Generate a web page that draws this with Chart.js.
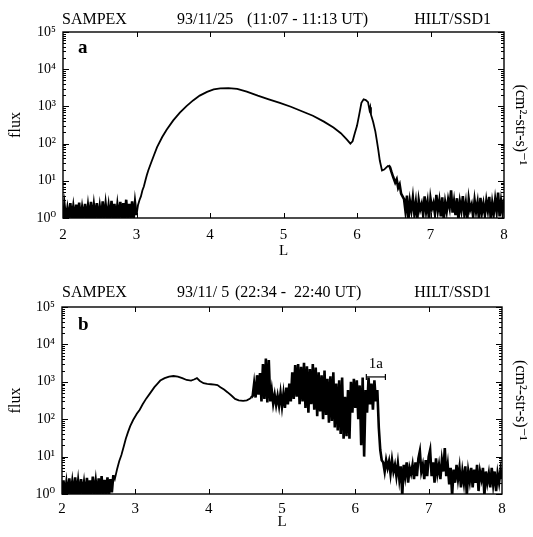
<!DOCTYPE html>
<html><head><meta charset="utf-8">
<script src="https://cdn.jsdelivr.net/npm/chart.js@4"></script>
<style>
html,body{margin:0;padding:0;background:#fff;}
#wrap{position:relative;width:533px;height:537px;overflow:hidden;background:#fff}
canvas{position:absolute;left:0}
#ca{top:0}
#cb{top:268px}
</style></head><body>
<div id="wrap"><canvas id="ca" width="533" height="268"></canvas><canvas id="cb" width="533" height="269"></canvas></div>
<script>
// ---------- DATA ----------
const xTickValues = [2, 3, 4, 5, 6, 7, 8];
const yTickValues = [1, 10, 100, 1000, 10000, 100000];
const noiseStep = 0.02;

// Panel a (93/11/25)
const noiseA1Start = 2.00;
const noiseA1Flux = [0.9,2.2,0.95,1.8,0.9,2.5,1.0,2.0,0.9,2.3,0.95,2.6,0.9,1.9,1.0,2.4,0.9,2.1,0.95,2.7,0.9,2.2,1.0,2.5,0.9,2.0,0.95,2.8,0.9,2.3,1.0,2.1,0.9,2.9,0.95,2.4,0.9,2.2,1.0,2.7,0.9,2.5,0.95,3.1,0.9,2.4,1.0,2.8,0.9,2.6,1.2];
const curveAL = [3.02,3.04,3.06,3.08,3.10,3.12,3.14,3.16,3.20,3.24,3.28,3.35,3.41,3.50,3.59,3.68,3.77,3.86,3.96,4.05,4.14,4.25,4.37,4.50,4.65,4.80,4.95,5.10,5.25,5.40,5.55,5.68,5.78,5.86,5.91,5.94,5.97,6.00,6.03,6.06,6.09,6.12,6.15,6.17,6.18,6.19,6.20,6.22,6.25,6.27,6.29,6.31,6.34,6.37,6.40,6.43,6.45,6.47,6.49,6.52,6.54,6.56,6.58,6.60,6.62];
const curveAFlux = [2.2,3.0,3.8,5.5,7,10,14,19,31,50,80,150,235,420,680,1020,1450,1950,2450,2850,3050,3100,2950,2500,1950,1550,1250,980,740,560,390,270,190,130,100,115,190,300,600,1250,1550,1480,1300,800,950,600,520,380,210,120,67,35,19,20,23,26,23,17,13,9,11,6.5,8,4.5,3.8];
const noiseA2Start = 6.64;
const noiseA2Flux = [3.2,1.5,4.0,0.9,2.8,1.6,3.5,1.3,2.6,0.9,3.0,1.7,2.4,1.2,3.8,1.5,2.7,0.9,3.3,1.8,2.5,1.3,4.2,1.6,2.9,1.1,3.6,0.9,2.6,1.5,3.1,1.9,5.5,1.4,2.8,1.2,3.4,0.9,2.7,1.6,3.9,1.3,2.5,0.9,3.2,1.7,2.3,1.1,3.0,1.5,2.6,0.9,3.5,1.4,2.4,1.2,2.9,1.6,3.7,0.9,2.5,1.3,3.1,1.5,4.8,1.1,2.8,1.4,3.3];

// Panel b (93/11/ 5)
const noiseB1Start = 2.00;
const noiseB1Flux = [0.9,2.3,0.95,2.0,0.9,2.6,1.0,2.1,0.9,2.8,0.95,2.2,0.9,2.5,1.0,2.0,0.9,2.7,0.95,2.3,0.9,2.9,1.0,2.2,0.9,2.6,0.95,3.0,0.9,2.4,1.0,2.8,0.9,2.5,1.1,3.2];
const curveBL = [2.72,2.75,2.78,2.81,2.84,2.87,2.90,2.93,2.97,3.02,3.06,3.10,3.15,3.20,3.26,3.30,3.34,3.40,3.46,3.52,3.58,3.64,3.70,3.76,3.80,3.84,3.88,3.93,3.98,4.03,4.08,4.12,4.16,4.21,4.26,4.31,4.36,4.41,4.47,4.52,4.56,4.58];
const curveBFlux = [2.5,4.5,7.5,11,18,30,45,65,95,140,180,250,360,490,720,880,1080,1250,1380,1430,1380,1250,1120,1080,1150,1250,1050,920,880,860,840,820,720,620,520,430,350,320,310,320,350,380];
const spikesBStart = 4.60;
const spikesBFlux = [420,900,380,1500,450,1700,300,3000,350,4200,280,3800,300,600,260,450,240,420,230,500,220,480,200,700,250,900,300,1800,350,2800,400,3000,250,2500,300,3200,200,2600,150,2200,250,3000,180,2400,120,1800,160,1500,100,2000,130,1200,80,1400,90,1800,60,900,50,1100,40,1300,30,400,35,600,30,1000,150,1200,200,1100,100,800,20,1300,10,600,150,1300,250,900,180,1100,300,600,60,15,8];
const noiseB3Start = 6.38;
const noiseB3Flux = [7,4,8,5,7.5,3.5,8,4,6,3,6.5,2.5,5.5,0.9,6,3,7,2,5,3.5,6,2.5,7,3,9,14,4,6,2.5,8,3,10,15,3,7,2,9,3.5,6,2.5,8,4,17,3,6,1.8,5,0.9,4.5,2,6,2.5,5,1.5,4,2,5.5,0.9,4,2.2,5,1.5,4.5,2,6,1.2,4,2.5,5,0.9,4,2,3.5,1.5,5,1.8,4,1.2,3.5,2,4.5,2.5];
const bracketL = [6.15, 6.41];
const bracketFlux = 1350;
const label1aL = 6.28;
const label1aFlux = 2900;

// ---------- BUILD ----------
function seg(start, step, vals, noisy) { return vals.map((v, i) => ({ x: +(start + i * step).toFixed(3), y: v, n: noisy })); }
function pairs(ls, fs, noisyFrom) { return ls.map((l, i) => ({ x: l, y: fs[i], n: l >= noisyFrom })); }
const pointsA = [...seg(noiseA1Start, noiseStep, noiseA1Flux, true), ...pairs(curveAL, curveAFlux, 6.45), ...seg(noiseA2Start, noiseStep, noiseA2Flux, true)];
const pointsB = [...seg(noiseB1Start, noiseStep, noiseB1Flux, true), ...pairs(curveBL, curveBFlux, 99), ...seg(spikesBStart, noiseStep, spikesBFlux, true), ...seg(noiseB3Start, noiseStep, noiseB3Flux, true)];

const SERIF = "'Liberation Serif', 'DejaVu Serif', serif";
Chart.defaults.font.family = SERIF;
Chart.defaults.color = '#000';
const SUP = ['\u2070', '\u00b9', '\u00b2', '\u00b3', '\u2074', '\u2075'];

const frameTicks = {
  id: 'frameTicks',
  afterDatasetsDraw(chart) {
    const { ctx, chartArea: a } = chart;
    const x = chart.scales.x, y = chart.scales.y;
    ctx.save();
    ctx.strokeStyle = '#000';
    ctx.lineWidth = 1.4;
    ctx.strokeRect(a.left, a.top, a.right - a.left, a.bottom - a.top);
    ctx.lineWidth = 1;
    ctx.beginPath();
    for (const t of x.ticks) {
      const px = Math.round(x.getPixelForValue(t.value)) + 0.5;
      if (px <= a.left + 2 || px >= a.right - 2) continue;
      ctx.moveTo(px, a.bottom); ctx.lineTo(px, a.bottom - 5);
      ctx.moveTo(px, a.top); ctx.lineTo(px, a.top + 5);
    }
    for (let d = 0; d < yTickValues.length; d++) {
      const base = yTickValues[d];
      for (let m = 1; m <= 9; m++) {
        const v = base * m;
        if (v > y.max) break;
        const py = Math.round(y.getPixelForValue(v)) + 0.5;
        const len = m === 1 ? 6 : 3;
        ctx.moveTo(a.left, py); ctx.lineTo(a.left + len, py);
        ctx.moveTo(a.right, py); ctx.lineTo(a.right - len, py);
      }
    }
    ctx.stroke();
    ctx.restore();
  }
};

const headerPlugin = {
  id: 'header',
  afterDraw(chart, args, opts) {
    const ctx = chart.ctx;
    ctx.save();
    ctx.fillStyle = '#000';
    ctx.textBaseline = 'alphabetic';
    for (const it of (opts.items || [])) {
      ctx.font = it.font;
      ctx.textAlign = it.align || 'left';
      ctx.fillText(it.text, it.x, it.y);
    }
    if (opts.note) {
      const n = opts.note;
      ctx.font = n.font;
      ctx.textAlign = 'center';
      ctx.textBaseline = 'middle';
      ctx.fillText(n.text, chart.scales.x.getPixelForValue(n.xv), chart.scales.y.getPixelForValue(n.yv));
    }
    ctx.restore();
  }
};

function makeChart(id, cfg) {
  const pts = cfg.points;
  const datasets = [{
    data: pts, borderColor: '#000', borderWidth: 1.8, pointRadius: 0, tension: 0, fill: false,
    segment: { borderWidth: c => (pts[c.p1DataIndex] && pts[c.p1DataIndex].n ? 2.6 : 1.8) }
  }];
  if (cfg.bracket) datasets.push(cfg.bracket);
  return new Chart(document.getElementById(id), {
    type: 'line',
    data: { datasets },
    options: {
      responsive: false, animation: false, devicePixelRatio: 1,
      layout: { padding: { top: cfg.top, left: 0, right: 0, bottom: 0 } },
      plugins: {
        legend: { display: false }, tooltip: { enabled: false },
        header: { items: cfg.header, note: cfg.note }
      },
      scales: {
        x: {
          type: 'linear', position: 'bottom', min: 2, max: 8,
          afterBuildTicks: s => { s.ticks = xTickValues.map(v => ({ value: v })); },
          ticks: { color: '#000', font: { size: 15 }, padding: cfg.xPad, maxRotation: 0, autoSkip: false },
          grid: { display: false, drawTicks: false }, border: { display: false },
          title: { display: true, text: 'L', color: '#000', font: { size: 15 }, padding: { top: 0, bottom: cfg.lPad } },
          afterFit: s => { s.height = cfg.xH; }
        },
        y: {
          type: 'logarithmic', position: 'left', min: 1, max: 100000,
          afterBuildTicks: s => { s.ticks = yTickValues.map(v => ({ value: v })); },
          ticks: { color: '#000', font: { size: 14 }, padding: 7, autoSkip: false,
            callback: v => '10' + SUP[Math.round(Math.log10(v))] },
          grid: { display: false, drawTicks: false }, border: { display: false },
          title: { display: true, text: 'flux', color: '#000', font: { size: 16 }, padding: { top: 6, bottom: 0 } },
          afterFit: s => { s.width = cfg.leftW; }
        },
        y2: {
          type: 'logarithmic', position: 'right', min: 1, max: 100000,
          ticks: { display: false },
          grid: { display: false, drawTicks: false }, border: { display: false },
          title: { display: true, text: '(cm\u00b2-str-s)\u207b\u00b9', color: '#000', font: { size: 16 }, padding: { top: 3, bottom: 0 } },
          afterFit: s => { s.width = cfg.rightW; }
        }
      }
    },
    plugins: [frameTicks, headerPlugin]
  });
}

const HF = "16px " + SERIF;
makeChart('ca', {
  points: pointsA, top: 32, leftW: 63, rightW: 29, xH: 50, xPad: 8, lPad: 8,
  header: [
    { text: 'SAMPEX', x: 62, y: 24, font: HF },
    { text: '93/11/25', x: 177, y: 24, font: HF },
    { text: '(11:07 - 11:13 UT)', x: 247, y: 24, font: HF },
    { text: 'HILT/SSD1', x: 491, y: 24, font: HF, align: 'right' },
    { text: 'a', x: 78, y: 53, font: "bold 19px " + SERIF }
  ]
});
makeChart('cb', {
  points: pointsB, top: 39, leftW: 62, rightW: 31, xH: 43, xPad: 6, lPad: 6,
  header: [
    { text: 'SAMPEX', x: 62, y: 29, font: HF },
    { text: '93/11/ 5', x: 177, y: 29, font: HF },
    { text: '(22:34 -  22:40 UT)', x: 235, y: 29, font: HF },
    { text: 'HILT/SSD1', x: 491, y: 29, font: HF, align: 'right' },
    { text: 'b', x: 78, y: 62, font: "bold 19px " + SERIF }
  ],
  note: { text: '1a', xv: label1aL, yv: label1aFlux, font: "15px " + SERIF },
  bracket: {
    data: bracketL.map(l => ({ x: l, y: bracketFlux })),
    borderColor: '#000', borderWidth: 1.2, pointStyle: 'line', rotation: 90,
    pointRadius: 3, pointBorderWidth: 1.2, pointBorderColor: '#000', tension: 0, fill: false
  }
});
</script>
</body></html>
